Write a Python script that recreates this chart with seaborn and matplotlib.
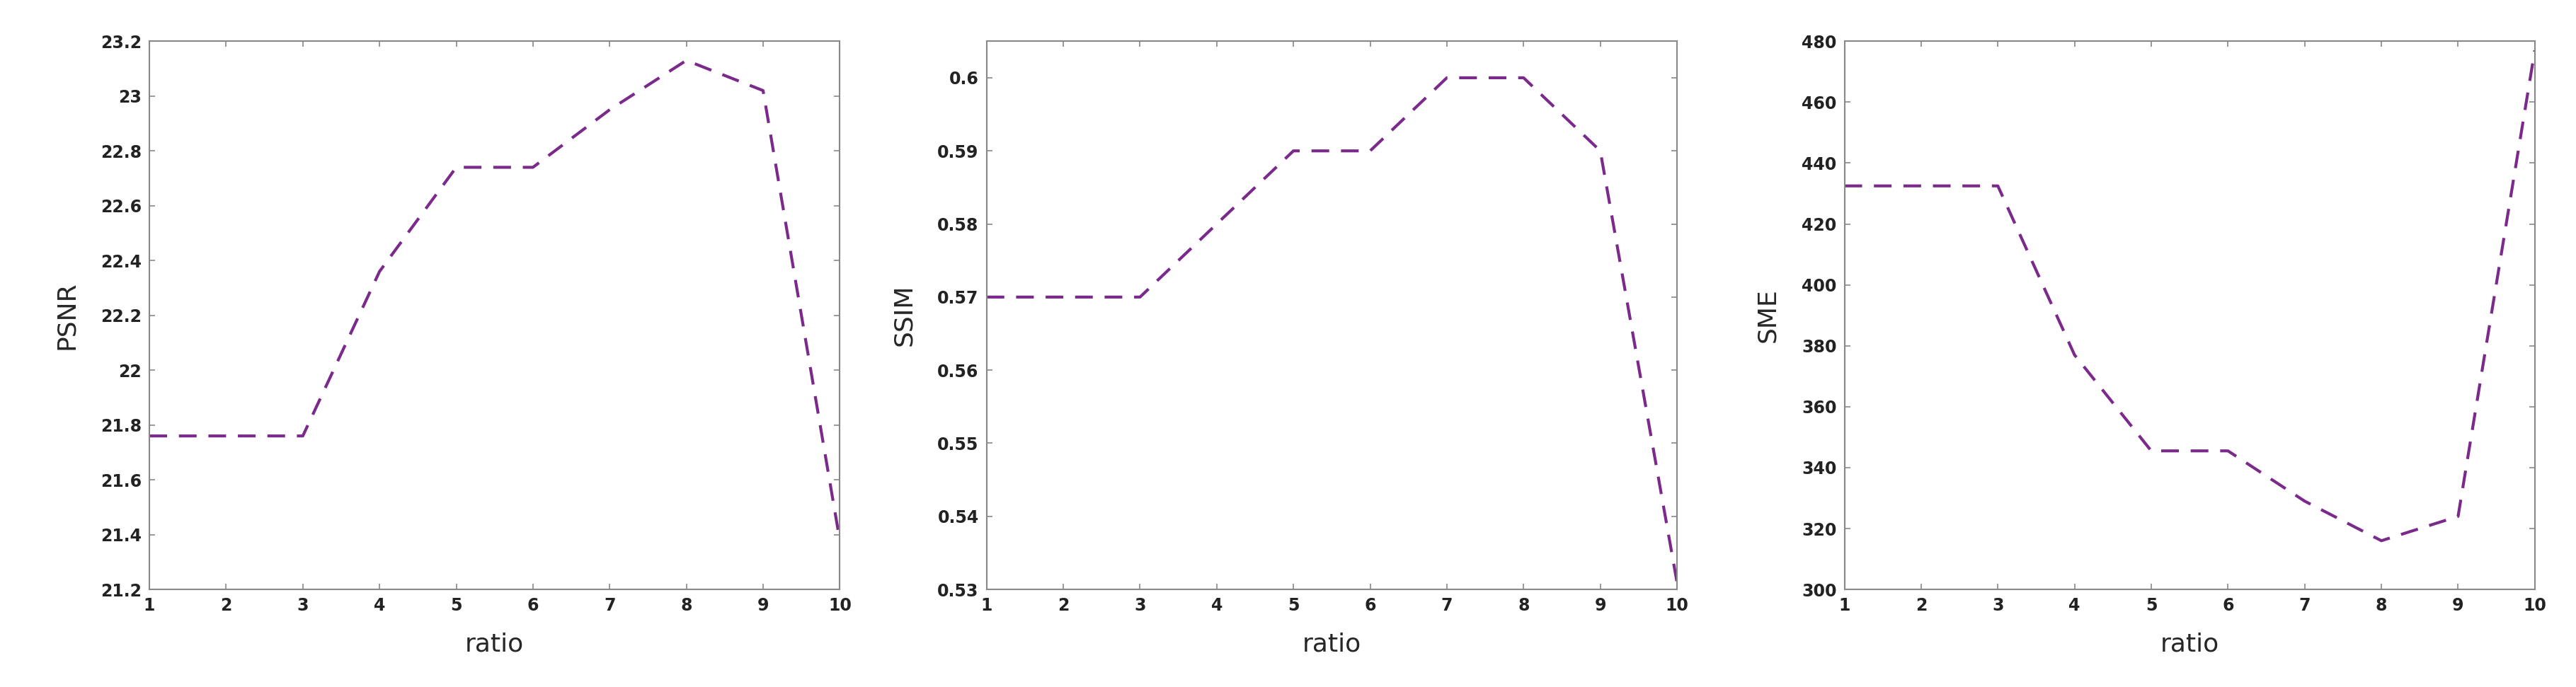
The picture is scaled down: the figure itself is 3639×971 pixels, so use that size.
import matplotlib
matplotlib.use("Agg")
import matplotlib.pyplot as plt
import seaborn as sns
import pandas as pd
from matplotlib.ticker import FuncFormatter

ratio = [1, 2, 3, 4, 5, 6, 7, 8, 9, 10]
psnr = [21.76, 21.76, 21.76, 22.36, 22.74, 22.74, 22.95, 23.13, 23.02, 21.38]
ssim = [0.57, 0.57, 0.57, 0.58, 0.59, 0.59, 0.60, 0.60, 0.59, 0.531]
sme = [432.5, 432.5, 432.5, 377, 345.5, 345.5, 329, 316, 324, 477]

sns.set_theme(style="white")
plt.rcParams['font.family'] = ['DejaVu Sans']

fig = plt.figure(figsize=(36.39, 9.71), dpi=100)
lefts = [0.058, 0.383, 0.716]
width = 0.268
specs = [
    ("PSNR", psnr, (21.2, 23.2), [21.2 + 0.2 * i for i in range(11)]),
    ("SSIM", ssim, (0.53, 0.605), [0.53 + 0.01 * i for i in range(8)]),
    ("SME", sme, (300, 480), [300 + 20 * i for i in range(10)]),
]
fmt = FuncFormatter(lambda v, p: ("%.3f" % v).rstrip("0").rstrip("."))
for left, (name, vals, ylim, yt) in zip(lefts, specs):
    ax = fig.add_axes([left, 0.142, width, 0.798])
    df = pd.DataFrame({"ratio": ratio, name: vals})
    sns.lineplot(data=df, x="ratio", y=name, ax=ax, color="#7b2a8c",
                 linestyle="--", linewidth=3, dashes=False)
    ax.lines[0].set_dashes([6, 4])
    ax.set_xlim(1, 10)
    ax.set_ylim(*ylim)
    ax.set_xticks(ratio)
    ax.set_yticks(yt)
    ax.yaxis.set_major_formatter(fmt)
    ax.tick_params(axis="both", direction="in", length=6, width=1.2,
                   top=True, right=True, bottom=True, left=True,
                   labelsize=17, colors="#888888", labelcolor="#222222", pad=8)
    for lab in ax.get_xticklabels() + ax.get_yticklabels():
        lab.set_fontweight("bold")
    for s in ax.spines.values():
        s.set_color("#888888")
        s.set_linewidth(1.5)
    ax.set_xlabel("ratio", fontsize=26, labelpad=18)
    ax.set_ylabel(name, fontsize=26, labelpad=22)

fig.savefig("out.png", dpi=100, facecolor="white")
